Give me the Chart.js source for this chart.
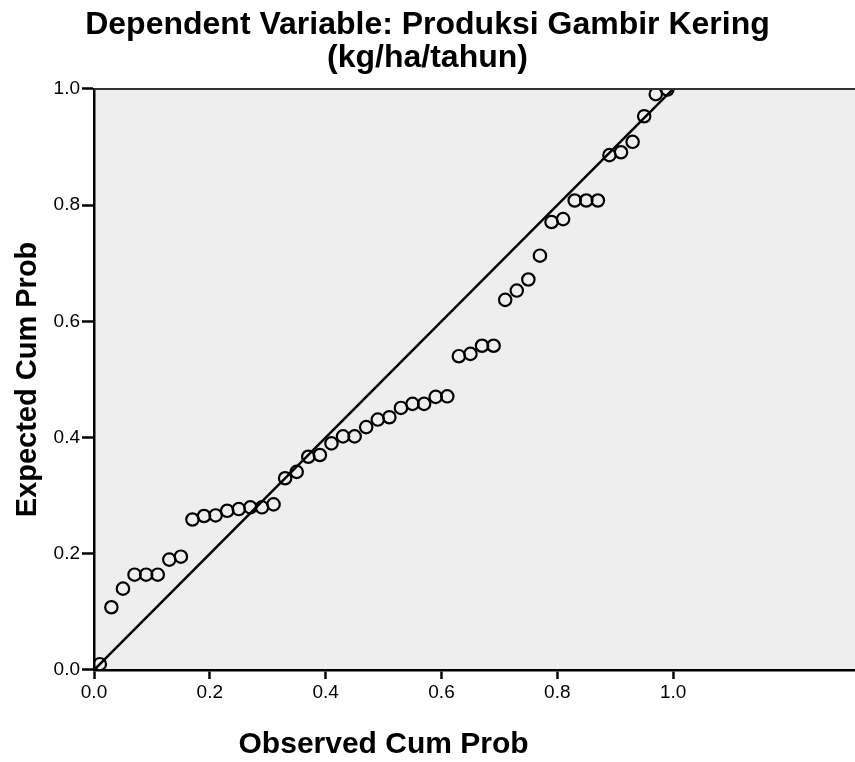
<!DOCTYPE html>
<html>
<head>
<meta charset="utf-8">
<script src="https://cdn.jsdelivr.net/npm/chart.js@4"></script>
<style>
  html, body { margin: 0; padding: 0; background: #fff; }
</style>
</head>
<body>
<canvas id="pp-plot" width="855" height="762"></canvas>
<script>
// Normal P-P plot of regression standardized residual
const observedCumProb = [
  0.01, 0.03, 0.05, 0.07, 0.09, 0.11, 0.13, 0.15, 0.17, 0.19,
  0.21, 0.23, 0.25, 0.27, 0.29, 0.31, 0.33, 0.35, 0.37, 0.39,
  0.41, 0.43, 0.45, 0.47, 0.49, 0.51, 0.53, 0.55, 0.57, 0.59,
  0.61, 0.63, 0.65, 0.67, 0.69, 0.71, 0.73, 0.75, 0.77, 0.79,
  0.81, 0.83, 0.85, 0.87, 0.89, 0.91, 0.93, 0.95, 0.97, 0.99,
];
const expectedCumProb = [
  0.010, 0.108, 0.140, 0.164, 0.164, 0.164, 0.190, 0.195, 0.259, 0.265,
  0.266, 0.274, 0.277, 0.280, 0.280, 0.285, 0.330, 0.341, 0.367, 0.370,
  0.390, 0.402, 0.402, 0.418, 0.431, 0.435, 0.451, 0.458, 0.458, 0.470,
  0.471, 0.540, 0.544, 0.558, 0.558, 0.637, 0.653, 0.672, 0.713, 0.771,
  0.776, 0.808, 0.808, 0.808, 0.886, 0.891, 0.909, 0.953, 0.991, 0.999,
];
const referenceLine = [0, 1];
const tickValues = [0, 0.2, 0.4, 0.6, 0.8, 1.0];

const titleLines = ['Dependent Variable: Produksi Gambir Kering', '(kg/ha/tahun)'];
const xTitle = 'Observed Cum Prob';
const yTitle = 'Expected Cum Prob';

const FONT = '"Liberation Sans", Arial, Helvetica, sans-serif';

const plotFrame = {
  id: 'plotFrame',
  beforeDraw(chart) {
    const { ctx, chartArea: a } = chart;
    ctx.save();
    ctx.fillStyle = '#eeeeee';
    ctx.fillRect(a.left, a.top, a.right - a.left, a.bottom - a.top);
    ctx.restore();
  },
  afterDraw(chart) {
    const { ctx, chartArea: a, scales } = chart;
    ctx.save();
    ctx.strokeStyle = '#333';
    ctx.lineWidth = 2;
    ctx.beginPath();
    ctx.moveTo(a.left, a.top);
    ctx.lineTo(a.right, a.top);
    ctx.stroke();

    // x title sits under the 0..1 part of the axis, not the whole axis
    const cx = (scales.x.getPixelForValue(tickValues[0]) +
      scales.x.getPixelForValue(tickValues[tickValues.length - 1])) / 2;
    ctx.font = 'bold 30px ' + FONT;
    ctx.fillStyle = '#000';
    ctx.textAlign = 'center';
    ctx.textBaseline = 'middle';
    ctx.fillText(xTitle, cx, a.bottom + 75);
    ctx.restore();
  },
};

const keepTicks = (scale) => {
  scale.ticks = tickValues.map((value) => ({ value }));
};

new Chart(document.getElementById('pp-plot'), {
  data: {
    datasets: [
      {
        type: 'scatter',
        data: observedCumProb.map((x, i) => ({ x, y: expectedCumProb[i] })),
        pointStyle: 'circle',
        pointRadius: 6.2,
        pointBorderWidth: 2.2,
        borderColor: '#000',
        backgroundColor: 'rgba(0,0,0,0)',
        clip: 0,
      },
      {
        type: 'line',
        data: referenceLine.map((v) => ({ x: v, y: v })),
        borderColor: '#000',
        borderWidth: 2.5,
        pointRadius: 0,
        fill: false,
        clip: 0,
      },
    ],
  },
  options: {
    responsive: false,
    animation: false,
    events: [],
    layout: {
      padding: 0,
      autoPadding: false,
    },
    scales: {
      x: {
        type: 'linear',
        min: 0,
        max: 1.314,
        afterBuildTicks: keepTicks,
        afterFit: (scale) => {
          scale.height = 92;
          scale.paddingLeft = 0;
          scale.paddingRight = 0;
        },
        ticks: {
          color: '#000',
          padding: 2,
          maxRotation: 0,
          font: { family: FONT, size: 19 },
          callback: (v) => Number(v).toFixed(1),
        },
        grid: {
          drawOnChartArea: false,
          tickLength: 9,
          tickColor: '#000',
          tickWidth: 2.5,
        },
        border: { color: '#000', width: 2.5 },
      },
      y: {
        type: 'linear',
        min: 0,
        max: 1,
        afterBuildTicks: keepTicks,
        afterFit: (scale) => {
          scale.width = 94;
          scale.paddingTop = 0;
          scale.paddingBottom = 0;
        },
        ticks: {
          color: '#000',
          padding: 2,
          font: { family: FONT, size: 19 },
          callback: (v) => Number(v).toFixed(1),
        },
        grid: {
          drawOnChartArea: false,
          tickLength: 12,
          tickColor: '#000',
          tickWidth: 2.5,
        },
        border: { color: '#000', width: 2.5 },
        title: {
          display: true,
          text: yTitle,
          color: '#000',
          font: { family: FONT, size: 29, weight: 'bold' },
          padding: { top: 11, bottom: 0 },
        },
      },
    },
    plugins: {
      legend: { display: false },
      tooltip: { enabled: false },
      title: {
        display: true,
        text: titleLines,
        color: '#000',
        font: { family: FONT, size: 32, weight: 'bold', lineHeight: 1.03 },
        padding: { top: 9, bottom: 14 },
      },
    },
  },
  plugins: [plotFrame],
});
</script>
</body>
</html>
